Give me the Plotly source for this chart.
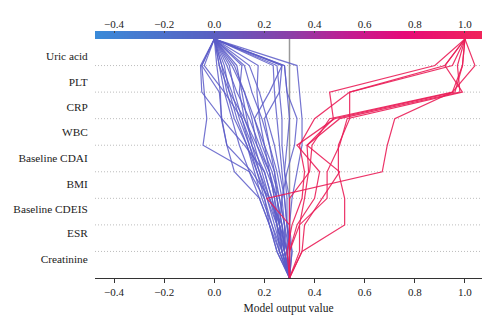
import numpy as np
import plotly.graph_objects as go

# Features listed bottom -> top (SHAP decision plot order)
features = ["Creatinine", "ESR", "Baseline CDEIS", "BMI", "Baseline CDAI",
            "WBC", "CRP", "PLT", "Uric acid"]
base_value = 0.3
x_ticks = [-0.4, -0.2, 0.0, 0.2, 0.4, 0.6, 0.8, 1.0]

# cumulative model output at each level (bottom=base value -> top=final prediction)
blue_paths = [
    [0.30, 0.28, 0.25, 0.22, 0.15, 0.05, 0.03, -0.05, -0.055, 0.0],
    [0.30, 0.27, 0.23, 0.20, 0.14, -0.045, -0.03, -0.04, -0.05, 0.0],
    [0.30, 0.29, 0.26, 0.23, 0.20, 0.12, 0.03, 0.02, -0.05, 0.0],
    [0.30, 0.26, 0.22, 0.18, 0.08, 0.05, 0.028, 0.024, 0.01, 0.0],
    [0.30, 0.28, 0.27, 0.25, 0.22, 0.17, 0.12, 0.10, 0.11, 0.0],
    [0.30, 0.29, 0.28, 0.26, 0.24, 0.20, 0.18, 0.17, 0.175, 0.0],
    [0.30, 0.30, 0.29, 0.28, 0.27, 0.26, 0.25, 0.24, 0.235, 0.0],
    [0.30, 0.31, 0.30, 0.30, 0.28, 0.27, 0.27, 0.26, 0.25, 0.0],
    [0.30, 0.29, 0.30, 0.31, 0.33, 0.35, 0.35, 0.34, 0.33, 0.0],
    [0.30, 0.27, 0.26, 0.27, 0.29, 0.32, 0.33, 0.29, 0.28, 0.0],
    [0.30, 0.28, 0.25, 0.24, 0.22, 0.18, 0.14, 0.09, 0.05, 0.0],
    [0.30, 0.27, 0.24, 0.21, 0.18, 0.14, 0.10, 0.07, 0.03, 0.0],
    [0.30, 0.26, 0.23, 0.19, 0.16, 0.13, 0.09, 0.06, 0.04, 0.0],
    [0.30, 0.29, 0.27, 0.25, 0.21, 0.17, 0.15, 0.12, 0.07, 0.0],
    [0.30, 0.28, 0.26, 0.22, 0.19, 0.16, 0.12, 0.06, 0.02, 0.0],
    [0.30, 0.25, 0.22, 0.18, 0.14, 0.10, 0.07, 0.04, 0.02, 0.0],
    [0.30, 0.30, 0.28, 0.26, 0.23, 0.19, 0.16, 0.22, 0.27, 0.0],
    [0.30, 0.27, 0.25, 0.23, 0.20, 0.15, 0.13, 0.11, 0.09, 0.0],
    [0.30, 0.29, 0.26, 0.24, 0.22, 0.20, 0.16, 0.12, 0.08, 0.0],
    [0.30, 0.28, 0.28, 0.27, 0.25, 0.22, 0.20, 0.26, 0.27, 0.0],
    [0.30, 0.26, 0.25, 0.21, 0.17, 0.14, 0.11, 0.04, -0.04, 0.0],
    [0.30, 0.31, 0.29, 0.28, 0.26, 0.24, 0.21, 0.18, 0.14, 0.0],
    [0.30, 0.27, 0.26, 0.25, 0.24, 0.22, 0.19, 0.15, 0.12, 0.0],
    [0.30, 0.30, 0.29, 0.29, 0.28, 0.29, 0.30, 0.29, 0.28, 0.0],
    [0.30, 0.28, 0.27, 0.22, 0.18, 0.15, 0.11, 0.08, 0.06, 0.0],
    [0.30, 0.25, 0.22, 0.20, 0.17, 0.13, 0.08, 0.05, 0.03, 0.0],
]
red_paths = [
    [0.30, 0.30, 0.30, 0.21, 0.67, 0.69, 0.72, 0.95, 0.99, 1.0],
    [0.30, 0.35, 0.52, 0.52, 0.495, 0.495, 0.54, 0.54, 0.95, 1.0],
    [0.30, 0.30, 0.34, 0.36, 0.376, 0.37, 0.475, 0.46, 0.88, 1.0],
    [0.30, 0.30, 0.30, 0.30, 0.38, 0.39, 0.46, 0.95, 1.04, 1.0],
    [0.30, 0.34, 0.34, 0.45, 0.45, 0.50, 0.53, 0.99, 0.92, 1.0],
    [0.30, 0.30, 0.33, 0.40, 0.42, 0.33, 0.48, 0.96, 0.99, 1.0],
    [0.30, 0.35, 0.36, 0.43, 0.50, 0.37, 0.50, 0.98, 0.97, 1.0],
    [0.30, 0.29, 0.31, 0.35, 0.36, 0.34, 0.40, 0.54, 0.92, 1.0],
]

XMIN, XMAX = -0.476, 1.068
n = len(features)
levels = list(range(n + 1))
serif = "'Liberation Serif', 'Times New Roman', 'DejaVu Serif', serif"
colorscale = [[0, "#3a8ad8"], [0.3, "#5a60c2"], [0.5, "#8a40a8"],
              [0.65, "#c01e92"], [0.8, "#e60a78"], [1, "#f0245a"]]

fig = go.Figure()

# colour bar strip on top
xs = np.linspace(XMIN, XMAX, 300)
fig.add_trace(go.Heatmap(x=xs, y=[0, 1], z=[xs, xs], colorscale=colorscale,
                         zmin=XMIN, zmax=XMAX, showscale=False,
                         xaxis="x2", yaxis="y2", hoverinfo="skip"))

for p in blue_paths:
    fig.add_trace(go.Scatter(x=p, y=levels, mode="lines",
                             line=dict(color="rgba(92,92,200,0.85)", width=1.2),
                             showlegend=False, hoverinfo="skip"))
for p in red_paths:
    fig.add_trace(go.Scatter(x=p, y=levels, mode="lines",
                             line=dict(color="rgba(234,30,88,0.9)", width=1.2),
                             showlegend=False, hoverinfo="skip"))

shapes = []
for i in range(1, n):
    shapes.append(dict(type="line", xref="x", yref="y", x0=XMIN, x1=XMAX, y0=i, y1=i,
                       line=dict(color="#bdbdbd", width=1, dash="1px,2px"), layer="below"))
shapes.append(dict(type="line", xref="x", yref="y", x0=base_value, x1=base_value,
                   y0=0, y1=n, line=dict(color="#999999", width=1.5), layer="below"))

tick_pos = [0.72, 1.69, 2.60, 3.54, 4.52, 5.50, 6.44, 7.38, 8.36]
top_dom = 239 / 247

fig.update_layout(
    width=500, height=333,
    margin=dict(l=95, r=18, t=31, b=55),
    paper_bgcolor="white", plot_bgcolor="white",
    font=dict(family=serif, size=11, color="#222"),
    shapes=shapes,
    xaxis=dict(domain=[0, 1], range=[XMIN, XMAX], anchor="y",
               tickvals=x_ticks, tickformat=".1f", ticks="outside", ticklen=4,
               tickcolor="#333", showline=True, linecolor="#333", linewidth=1,
               showgrid=False, zeroline=False,
               tickfont=dict(family=serif, size=11),
               title=dict(text="Model output value", standoff=6,
                          font=dict(family=serif, size=11.5))),
    yaxis=dict(domain=[0, top_dom], range=[0, n], tickvals=tick_pos,
               ticktext=features, ticks="outside", ticklen=4,
               tickcolor="rgba(0,0,0,0)", showgrid=False, zeroline=False,
               showline=False, tickfont=dict(family=serif, size=11.3)),
    xaxis2=dict(domain=[0, 1], range=[XMIN, XMAX], anchor="y2", side="top",
                tickvals=x_ticks, tickformat=".1f", ticks="inside", ticklen=2,
                tickcolor="#444", showgrid=False, zeroline=False, showline=False,
                tickfont=dict(family=serif, size=11)),
    yaxis2=dict(domain=[top_dom, 1], range=[0, 1], visible=False),
)

fig.write_html("out.html")
